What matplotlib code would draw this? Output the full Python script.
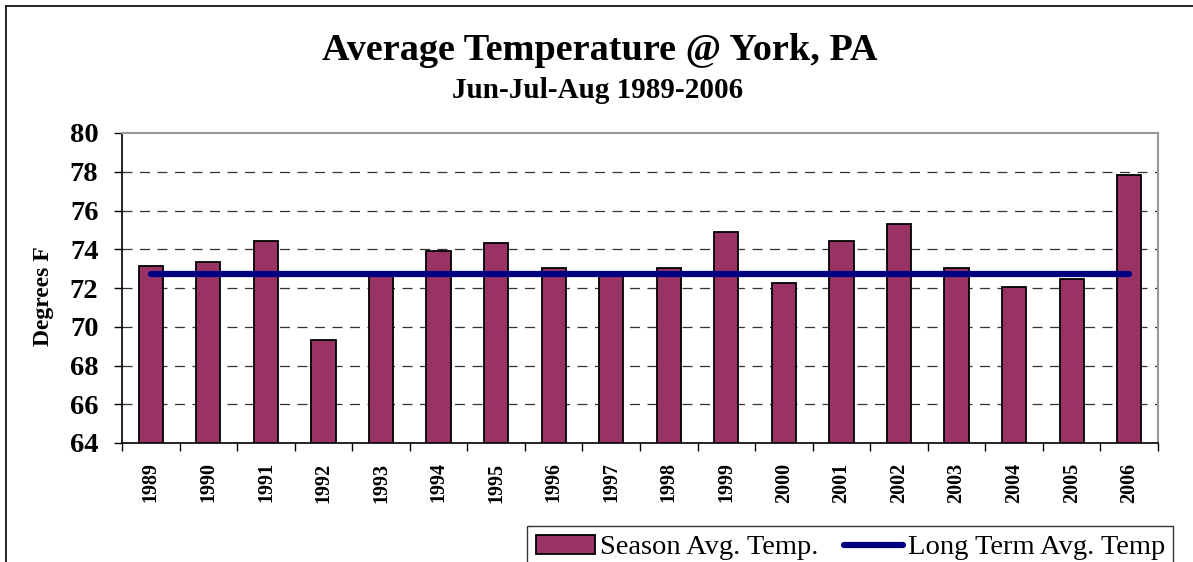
import matplotlib
matplotlib.use('Agg')
import matplotlib.pyplot as plt
from matplotlib.lines import Line2D
import numpy as np

years = ['1989', '1990', '1991', '1992', '1993', '1994', '1995', '1996', '1997',
         '1998', '1999', '2000', '2001', '2002', '2003', '2004', '2005', '2006']
season_avg = [73.15, 73.36, 74.44, 69.33, 72.7, 73.89, 74.32, 73.03, 72.6,
              73.03, 74.87, 72.26, 74.44, 75.32, 73.03, 72.05, 72.46, 77.81]
long_term_avg = [72.7] * len(years)
y_ticks = [64, 66, 68, 70, 72, 74, 76, 78, 80]

plt.rcParams['font.family'] = ['Liberation Serif', 'DejaVu Serif']

W, H = 1193, 562
fig = plt.figure(figsize=(W / 100, H / 100), dpi=100)
ax = fig.add_axes([122 / W, 1 - 443 / H, (1158 - 122) / W, (443 - 133) / H])

x = np.arange(len(years))
bars = ax.bar(x, season_avg, width=0.42, bottom=0, color='#993366',
              edgecolor='black', linewidth=1.3, zorder=2,
              label='Season Avg. Temp.')
line, = ax.plot(x, long_term_avg, color='#000080', linewidth=4.5,
                solid_capstyle='round', zorder=3, label='Long Term Avg. Temp')

ax.set_xlim(-0.5, len(years) - 0.5)
ax.set_ylim(64, 80)
ax.set_yticks(y_ticks)
ax.set_yticklabels([str(t) for t in y_ticks], fontsize=20.5, fontweight='bold')
ax.tick_params(axis='y', direction='out', length=6, width=1, pad=11)

ax.set_xticks(x)
ax.set_xticklabels(years, rotation=90, fontsize=14.5, fontweight='bold')
ax.set_xticks(np.arange(-0.5, len(years)), minor=True)
ax.tick_params(axis='x', which='major', length=0, pad=14)
ax.tick_params(axis='x', which='minor', direction='out', length=6, width=1)

for t in y_ticks[1:-1]:
    ax.axhline(t, color='#333333', linewidth=0.9, linestyle=(0, (8, 6)), zorder=1)

ax.spines['top'].set_color('#999999')
ax.spines['right'].set_color('#999999')
ax.spines['top'].set_linewidth(1.5)
ax.spines['right'].set_linewidth(1.5)
ax.spines['left'].set_linewidth(1.2)
ax.spines['bottom'].set_linewidth(1.2)

fig.text(600 / W, 1 - 50 / H, 'Average Temperature @ York, PA', ha='center',
         va='center', fontsize=27.5, fontweight='bold')
fig.text(598 / W, 1 - 91 / H, 'Jun-Jul-Aug 1989-2006', ha='center',
         va='center', fontsize=21, fontweight='bold')
fig.text(43 / W, 1 - 296 / H, 'Degrees F', rotation=90, ha='center',
         va='center', fontsize=17, fontweight='bold')

# chart frame
fig.add_artist(Line2D([6 / W, 1], [1 - 6 / H, 1 - 6 / H], transform=fig.transFigure,
                      color='black', linewidth=1.2))
fig.add_artist(Line2D([6 / W, 6 / W], [0, 1 - 6 / H], transform=fig.transFigure,
                      color='black', linewidth=1.2))

leg = fig.legend(handles=[bars, line], loc='upper left',
                 bbox_to_anchor=(527 / W, 1 - 526 / H), ncol=2, fontsize=20.5,
                 frameon=True, fancybox=False, edgecolor='black',
                 handlelength=2.1, handletextpad=0.15, columnspacing=0.9,
                 borderpad=0.3, borderaxespad=0)
leg.get_frame().set_linewidth(1.0)

fig.savefig('out.png', dpi=100)
